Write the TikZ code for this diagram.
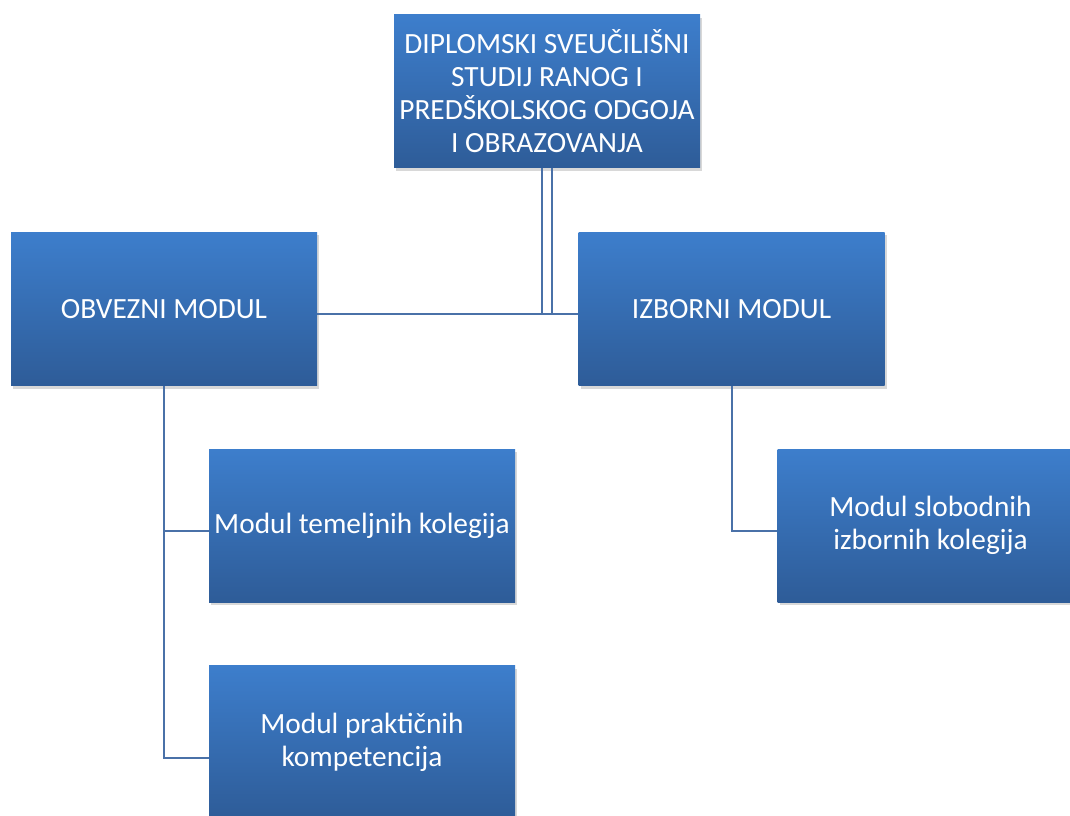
\documentclass[tikz,border=0pt]{standalone}
\usepackage{fontspec}
\setmainfont{Carlito}
\usetikzlibrary{positioning, shadows}

\definecolor{boxtop}{HTML}{3D7ECC}
\definecolor{boxbottom}{HTML}{2E5C98}
\definecolor{linkblue}{HTML}{4A71A8}

\tikzset{
    modbox/.style={rectangle, top color=boxtop, bottom color=boxbottom, text=white, align=center, inner sep=0pt,
        minimum width=229.5pt, minimum height=114.75pt, font=\fontsize{22}{24.75}\selectfont,
        drop shadow={shadow xshift=1.5pt, shadow yshift=-2.25pt, opacity=.3}},
    link/.style={draw=linkblue, line width=1.5pt}
}

\begin{document}
\begin{tikzpicture}[x=0.75pt, y=-0.75pt]
    \fill [white] (0, 0) rectangle (1070, 816);
    \clip (0, 0) rectangle (1070, 816);
    \node (study) [modbox] at (547, 91.5) {DIPLOMSKI SVEUČILIŠNI\\STUDIJ RANOG I\\PREDŠKOLSKOG ODGOJA\\I OBRAZOVANJA};
    \node (obv) [modbox] at (164, 309) {OBVEZNI MODUL};
    \node (izb) [modbox, right=195.75pt of obv] {IZBORNI MODUL};
    \node (tem) [modbox] at (362, 525.5) {Modul temeljnih kolegija};
    \node (pra) [modbox, below=47.25pt of tem] {Modul praktičnih\\kompetencija};
    \node (slo) [modbox, right=196.5pt of tem] {Modul slobodnih\\izbornih kolegija};
    \draw [link] ([yshift=-3.75pt]obv.east) -- ([yshift=-3.75pt]izb.west);
    \draw [link] ([xshift=-3.4pt]study.south) -- ([xshift=-3.4pt, yshift=-3.75pt]study.south |- obv.east);
    \draw [link] ([xshift=3.4pt]study.south) -- ([xshift=3.4pt, yshift=-3.75pt]study.south |- obv.east);
    \draw [link] (obv.south) |- ([yshift=-11.6pt]pra.west);
    \draw [link] ([yshift=-4.1pt]tem.west) -| (obv.south);
    \draw [link] (izb.south) |- ([yshift=-4.1pt]slo.west);
\end{tikzpicture}
\end{document}
